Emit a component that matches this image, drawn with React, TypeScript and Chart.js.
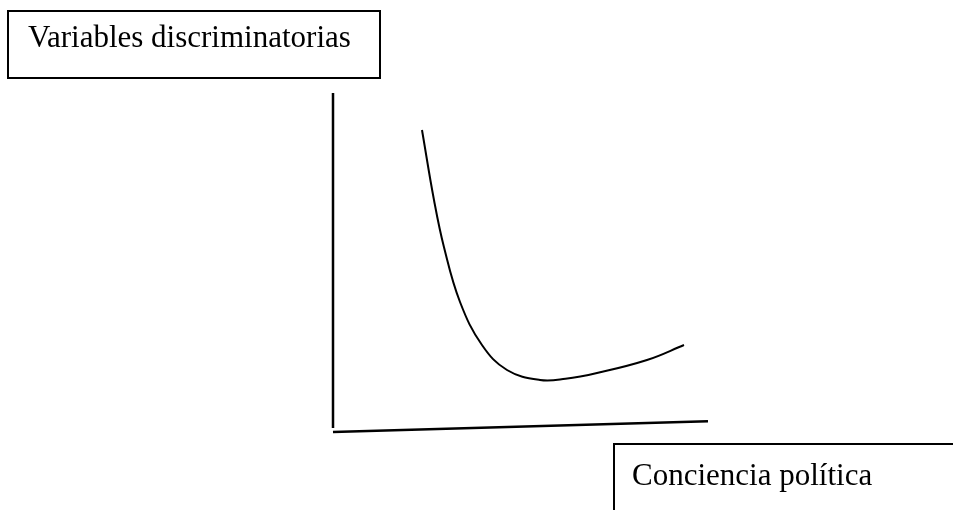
import React, { useEffect, useRef } from "react";
import { Chart, registerables } from "chart.js";

Chart.register(...registerables);

// Curve: discriminating variables vs. political awareness
const curveX = [2.373, 2.693, 2.96, 3.387, 3.973, 4.64, 5.52, 6.2, 7.04, 8.373, 9.36];
const curveY = [8.909, 6.844, 5.45, 3.835, 2.566, 1.829, 1.534, 1.57, 1.74, 2.124, 2.566];

// Hand-drawn axes
const yAxisX = [0, 0];
const yAxisY = [0.12, 10];
const xAxisX = [0, 10];
const xAxisY = [0, 0.32];

const yLabel = "Variables discriminatorias";
const xLabel = "Conciencia política";

const toPts = (xs: number[], ys: number[]) => xs.map((x, i) => ({ x, y: ys[i] }));

export default function App() {
  const ref = useRef<HTMLCanvasElement | null>(null);

  useEffect(() => {
    if (!ref.current) return;
    const chart = new Chart(ref.current, {
      type: "scatter",
      data: {
        datasets: [
          {
            data: toPts(curveX, curveY),
            showLine: true,
            borderColor: "#000",
            borderWidth: 2,
            pointRadius: 0,
            tension: 0.4,
            clip: false,
          } as any,
          {
            data: toPts(yAxisX, yAxisY),
            showLine: true,
            borderColor: "#000",
            borderWidth: 2.5,
            pointRadius: 0,
            clip: false,
          } as any,
          {
            data: toPts(xAxisX, xAxisY),
            showLine: true,
            borderColor: "#000",
            borderWidth: 2.5,
            pointRadius: 0,
            clip: false,
          } as any,
        ],
      },
      options: {
        animation: false,
        responsive: false,
        devicePixelRatio: 1,
        layout: { padding: { left: 333, right: 245, top: 93, bottom: 78 } },
        scales: {
          x: { type: "linear", min: 0, max: 10, display: false },
          y: { type: "linear", min: 0, max: 10, display: false },
        },
        plugins: { legend: { display: false }, tooltip: { enabled: false } },
      },
    });
    return () => chart.destroy();
  }, []);

  const font = '"Liberation Serif", "Times New Roman", serif';

  return (
    <div
      style={{
        position: "absolute",
        left: 0,
        top: 0,
        width: 953,
        height: 510,
        overflow: "hidden",
        background: "#fff",
      }}
    >
      <canvas ref={ref} width={953} height={510} style={{ position: "absolute", left: 0, top: 0 }} />
      <div
        style={{
          position: "absolute",
          left: 7,
          top: 10,
          width: 374,
          height: 69,
          boxSizing: "border-box",
          border: "2px solid #000",
        }}
      />
      <div
        style={{
          position: "absolute",
          left: 28,
          top: 19,
          fontFamily: font,
          fontSize: 31,
          lineHeight: "normal",
          whiteSpace: "nowrap",
          color: "#000",
        }}
      >
        {yLabel}
      </div>
      <div
        style={{
          position: "absolute",
          left: 613,
          top: 443,
          width: 400,
          height: 120,
          boxSizing: "border-box",
          border: "2px solid #000",
        }}
      />
      <div
        style={{
          position: "absolute",
          left: 632,
          top: 457,
          fontFamily: font,
          fontSize: 31,
          lineHeight: "normal",
          whiteSpace: "nowrap",
          color: "#000",
        }}
      >
        {xLabel}
      </div>
    </div>
  );
}
